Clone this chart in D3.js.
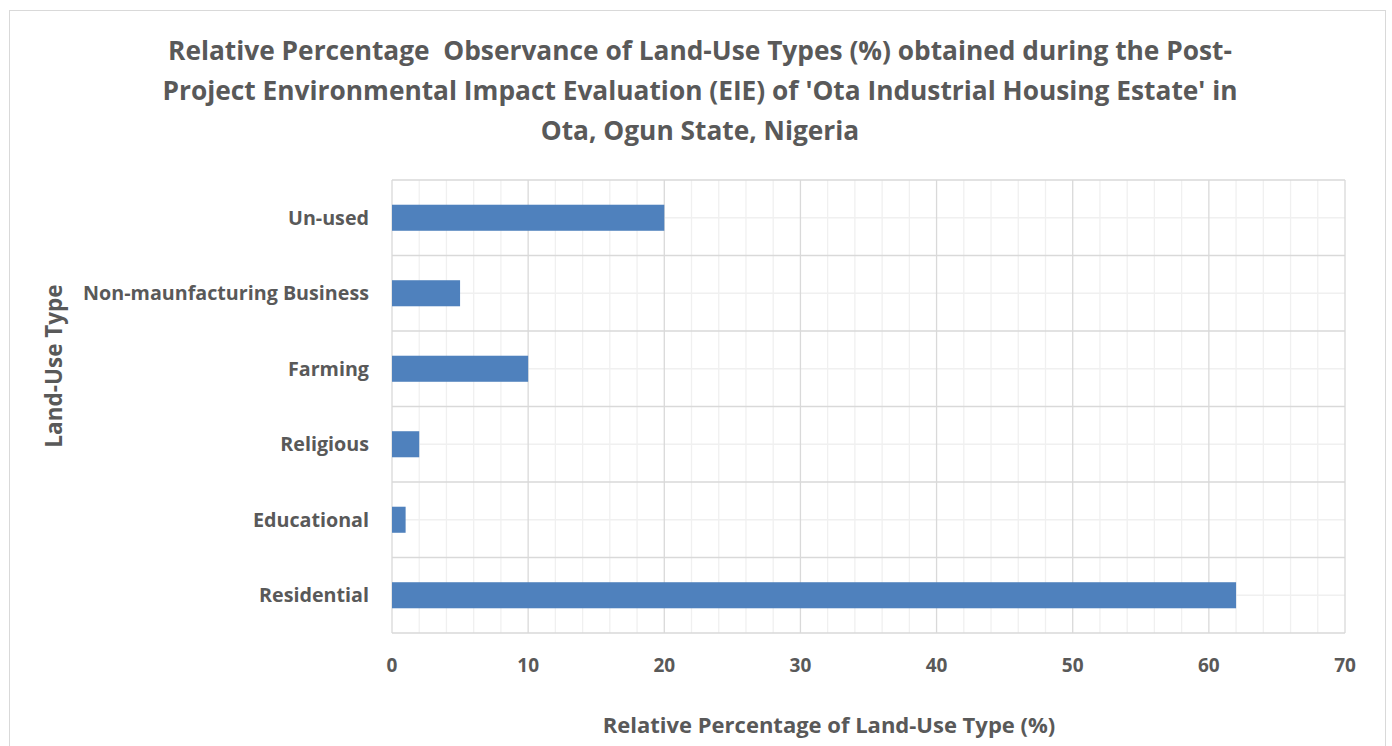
<!DOCTYPE html>
<html><head><meta charset="utf-8">
<script src="https://cdn.jsdelivr.net/npm/d3@7"></script>
<style>body{margin:0;background:#fff}svg{display:block}text{font-family:"Open Sans",sans-serif;font-weight:bold;fill:#595959;white-space:pre}</style>
</head><body><svg id="c" width="1392" height="746"></svg>
<script>
const categories = ["Residential","Educational","Religious","Farming","Non-maunfacturing Business","Un-used"];
const values = [62, 1, 2, 10, 5, 20];
const xTicks = [0,10,20,30,40,50,60,70];
const titleLines = ["Relative Percentage  Observance of Land-Use Types (%) obtained during the Post-",
  "Project Environmental Impact Evaluation (EIE) of 'Ota Industrial Housing Estate' in",
  "Ota, Ogun State, Nigeria"];
const xTitle = "Relative Percentage of Land-Use Type (%)";
const yTitle = "Land-Use Type";

const svg = d3.select("#c");
svg.append("rect").attr("x",9.5).attr("y",10.5).attr("width",1376).attr("height",760)
  .attr("fill","#fff").attr("stroke","#d9d9d9");
const L=392,R=1345,T=180,B=633;
const x = d3.scaleLinear().domain([0,70]).range([L,R]);
const y = d3.scaleBand().domain(categories.slice().reverse()).range([T,B]).paddingInner(0).paddingOuter(0);
const minor = d3.range(0,71,2);
svg.append("g").selectAll("line").data(minor.filter(d=>d%10!==0)).join("line")
  .attr("x1",d=>x(d)).attr("x2",d=>x(d)).attr("y1",T).attr("y2",B)
  .attr("stroke","#f0f0f0").attr("stroke-width",1.3);
svg.append("g").selectAll("line").data(categories).join("line")
  .attr("x1",L).attr("x2",R).attr("y1",d=>y(d)+y.bandwidth()/2).attr("y2",d=>y(d)+y.bandwidth()/2)
  .attr("stroke","#f0f0f0").attr("stroke-width",1.3);
svg.append("g").selectAll("line").data(xTicks).join("line")
  .attr("x1",d=>x(d)).attr("x2",d=>x(d)).attr("y1",T).attr("y2",B)
  .attr("stroke","#d9d9d9").attr("stroke-width",1.3);
const bounds = categories.map(c=>y(c)).concat([B]);
svg.append("g").selectAll("line").data(bounds).join("line")
  .attr("x1",L).attr("x2",R).attr("y1",d=>d).attr("y2",d=>d)
  .attr("stroke","#d9d9d9").attr("stroke-width",1.3);
const bh = y.bandwidth()*0.345;
svg.append("g").selectAll("rect").data(categories).join("rect")
  .attr("x",x(0)).attr("y",(d)=>y(d)+y.bandwidth()/2-bh/2)
  .attr("width",(d,i)=>x(values[i])-x(0)).attr("height",bh).attr("fill","#4f81bd");
svg.append("g").selectAll("text").data(xTicks).join("text")
  .attr("x",d=>x(d)).attr("y",672).attr("text-anchor","middle").attr("font-size",19).text(d=>d);
svg.append("g").selectAll("text").data(categories).join("text")
  .attr("x",369).attr("y",d=>y(d)+y.bandwidth()/2+7).attr("text-anchor","end").attr("font-size",19.7).text(d=>d);
svg.append("g").selectAll("text").data(titleLines).join("text")
  .attr("x",700).attr("y",(d,i)=>60+i*40).attr("text-anchor","middle").attr("font-size",26.3).text(d=>d);
svg.append("text").attr("x",829).attr("y",733).attr("text-anchor","middle").attr("font-size",22).text(xTitle);
svg.append("text").attr("transform","translate(62,366) rotate(-90)").attr("text-anchor","middle").attr("font-size",22.5).text(yTitle);
</script></body></html>
